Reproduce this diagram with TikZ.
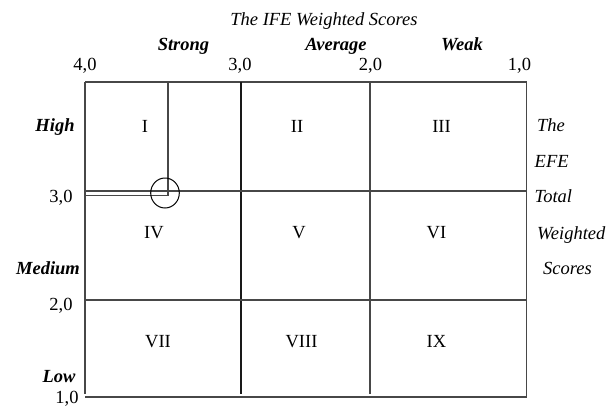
\documentclass[tikz,border=0pt]{standalone}
\usepackage{fontspec}
\setmainfont{Liberation Serif}
\usepackage{tikz}

\begin{document}
\begin{tikzpicture}[x=1pt, y=-1pt,
    every node/.style={inner sep=0pt, anchor=base, font=\fontsize{18.5}{22}\selectfont},
    gridline/.style={draw=black!72, line width=1.1pt},
    level/.style={font=\fontsize{18.5}{22}\selectfont\bfseries\itshape},
    axisname/.style={font=\fontsize{18.5}{22}\selectfont\itshape}]
    \useasboundingbox (0,0) rectangle (615,407);

    % corners of the matrix
    \coordinate (nw) at (85,82);
    \coordinate (ne) at (526.5,82);
    \coordinate (sw) at (85,394);
    \coordinate (se) at (526.5,396);

    % outer frame and inner lines
    \draw[gridline] (nw) -- (ne);
    \draw[gridline] (nw) -- (sw);
    \draw[gridline] (ne) -- (se);
    \draw[gridline] (85,397) -- (526.5,397);
    \draw[gridline, draw=black!90] (241,82) -- (241,394);
    \draw[gridline] (370,82) -- (370,394);
    \draw[gridline] (85,191) -- (526.5,191);
    \draw[gridline] (85,300) -- (526.5,300);

    % position of the company
    \coordinate (ife) at (168,82);
    \coordinate (efe) at (85,195.5);
    \coordinate (pos) at (168,195.5);
    \draw[gridline] (ife) -- (pos) -- (efe);
    \draw[black, line width=1pt] (165,193) ellipse [x radius=14.3, y radius=15];

    % top axis
    \node[axisname] (ifeTitle) at (324,25) {The IFE Weighted Scores};
    \node[level] (strong) at (183.5,50.5) {Strong};
    \node[level] (average) at (336,50.5) {Average};
    \node[level] (weak) at (462,50.5) {Weak};
    \node (top4) at (85,70.5) {4,0};
    \node (top3) at (240,70.5) {3,0};
    \node (top2) at (370.5,70.5) {2,0};
    \node (top1) at (519.5,70.5) {1,0};

    % left axis
    \node[level] (high) at (55,131.5) {High};
    \node (left3) at (61,202.5) {3,0};
    \node[level] (medium) at (48,274.5) {Medium};
    \node (left2) at (61,310.5) {2,0};
    \node[level] (low) at (59,382) {Low};
    \node (left1) at (67,403.5) {1,0};

    % right axis
    \node[axisname, anchor=base west] (efeThe) at (537,131.5) {The};
    \node[axisname, anchor=base west] (efeEFE) at (534.5,167.5) {EFE};
    \node[axisname, anchor=base west] (efeTotal) at (534.5,202.5) {Total};
    \node[axisname, anchor=base west] (efeWeighted) at (537,239) {Weighted};
    \node[axisname, anchor=base west] (efeScores) at (543,274.5) {Scores};

    % cells
    \node (cellI) at (145,132) {I};
    \node (cellII) at (297,132) {II};
    \node (cellIII) at (441.5,132) {III};
    \node (cellIV) at (154,238.5) {IV};
    \node (cellV) at (299,238.5) {V};
    \node (cellVI) at (436.5,238.5) {VI};
    \node (cellVII) at (158,347) {VII};
    \node (cellVIII) at (301.5,347) {VIII};
    \node (cellIX) at (436.5,347) {IX};
\end{tikzpicture}
\end{document}
